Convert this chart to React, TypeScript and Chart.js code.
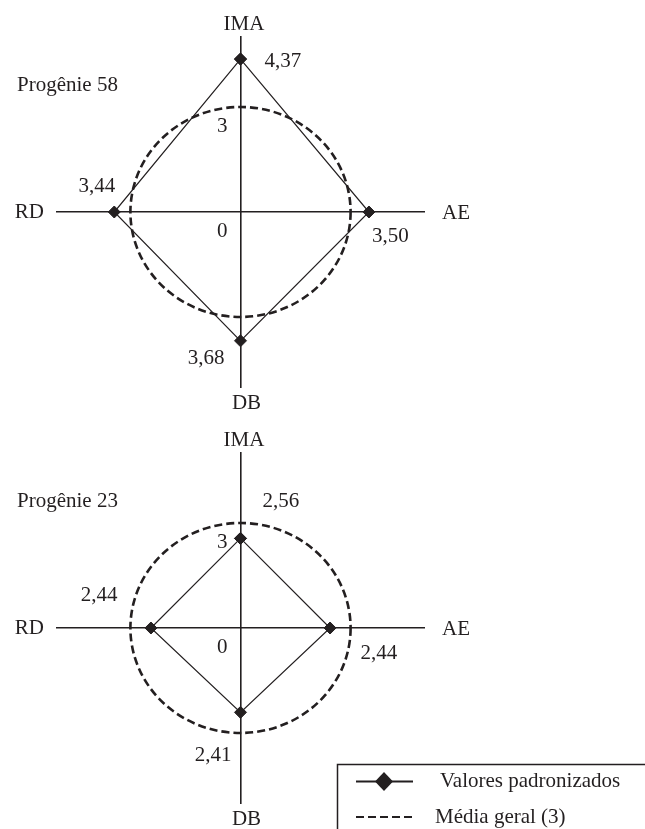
import React, { useEffect, useRef } from 'react';
import { Chart, registerables } from 'chart.js';

Chart.register(...registerables);

// ---- data ----
const AXES = ['IMA', 'AE', 'DB', 'RD'];
const PROGENY_58 = [4.37, 3.5, 3.68, 3.44];
const PROGENY_23 = [2.56, 2.44, 2.41, 2.44];
const TITLES = ['Progênie 58', 'Progênie 23'];
const MEAN = 3;
const R_TICKS = [0, 3];
const LEGEND_LABELS = ['Valores padronizados', 'Média geral (3)'];

// ---- styles / layout ----
const INK = '#231f20';
const FONT = '21px "Liberation Serif", "Times New Roman", serif';
const DIRS = [
  { x: 0, y: 1 },
  { x: 1, y: 0 },
  { x: 0, y: -1 },
  { x: -1, y: 0 },
];
// value label placement: outside (point beyond mean circle) / inside
const OUT_OFF = [
  { dx: 24, dy: 8, align: 'left' },
  { dx: 3, dy: 30, align: 'left' },
  { dx: -16, dy: 23, align: 'right' },
  { dx: 1, dy: -20, align: 'right' },
];
const IN_OFF = [
  { dx: 22, dy: -16, align: 'left' },
  { dx: 10, dy: 31, align: 'left' },
  { dx: -9, dy: 28, align: 'right' },
  { dx: -13, dy: -27, align: 'right' },
];

const fmt = (v: number) => v.toFixed(2).replace('.', ',');

function Diagram({ values, title, top, height }: { values: number[]; title: string; top: number; height: number }) {
  const ref = useRef<HTMLCanvasElement>(null);

  useEffect(() => {
    const canvas = ref.current!;
    const pts = values.map((v, i) => ({ x: DIRS[i].x * v, y: DIRS[i].y * v }));
    pts.push({ ...pts[0] });

    const overlay = {
      id: 'overlay',
      beforeDatasetsDraw(chart: any) {
        const { ctx, scales } = chart;
        const xs = scales.x;
        const ys = scales.y;
        const cx = xs.getPixelForValue(0);
        const cy = ys.getPixelForValue(0);
        const rx = xs.getPixelForValue(MEAN) - cx;
        const ry = cy - ys.getPixelForValue(MEAN);
        ctx.save();
        ctx.strokeStyle = INK;
        ctx.lineWidth = 2.6;
        ctx.setLineDash([8, 4]);
        ctx.beginPath();
        ctx.ellipse(cx, cy, rx, ry, 0, 0, Math.PI * 2);
        ctx.stroke();
        ctx.restore();
      },
      afterDraw(chart: any) {
        const { ctx, scales, chartArea } = chart;
        const xs = scales.x;
        const ys = scales.y;
        const cx = xs.getPixelForValue(0);
        const cy = ys.getPixelForValue(0);
        ctx.save();
        ctx.fillStyle = INK;
        ctx.font = FONT;
        ctx.textBaseline = 'alphabetic';

        // title
        ctx.textAlign = 'left';
        ctx.fillText(title, 17, chartArea.top + 54);

        // axis names
        ctx.textAlign = 'center';
        ctx.fillText(AXES[0], cx + 3.5, chartArea.top - 7);
        ctx.fillText(AXES[2], cx + 6, chartArea.bottom + 22);
        ctx.textAlign = 'left';
        ctx.fillText(AXES[1], chartArea.right + 18, cy + 7);
        ctx.textAlign = 'right';
        ctx.fillText(AXES[3], chartArea.left - 13, cy + 6);

        // radial tick labels
        ctx.textAlign = 'right';
        R_TICKS.forEach((t) => {
          ctx.fillText(String(t), cx - 13, ys.getPixelForValue(t) + 25);
        });

        // value labels
        values.forEach((v, i) => {
          const outside = v >= MEAN;
          const r = outside ? v : MEAN;
          const ax = xs.getPixelForValue(DIRS[i].x * r);
          const ay = ys.getPixelForValue(DIRS[i].y * r);
          const o = outside ? OUT_OFF[i] : IN_OFF[i];
          ctx.textAlign = o.align;
          ctx.fillText(fmt(v), ax + o.dx, ay + o.dy);
        });
        ctx.restore();
      },
    };

    const axisOpts = {
      type: 'linear',
      min: -5,
      max: 5,
      grid: { display: false },
      ticks: { display: false },
      border: { display: true, color: INK, width: 1.6 },
    };

    const chart = new Chart(canvas, {
      type: 'scatter',
      data: {
        datasets: [
          {
            label: LEGEND_LABELS[0],
            data: pts,
            showLine: true,
            borderColor: INK,
            borderWidth: 1.2,
            tension: 0,
            pointStyle: 'rectRot',
            pointRadius: 6,
            pointBackgroundColor: INK,
            pointBorderColor: INK,
            pointBorderWidth: 1,
          },
        ],
      },
      options: {
        animation: false,
        responsive: false,
        events: [],
        layout: { padding: { left: 57, right: 645 - 424, top: 37, bottom: height - 387 } },
        plugins: { legend: { display: false }, tooltip: { enabled: false }, title: { display: false } },
        scales: {
          x: { ...axisOpts, position: { y: 0 } },
          y: { ...axisOpts, position: { x: 0 } },
        },
      } as any,
      plugins: [overlay],
    } as any);
    return () => chart.destroy();
  }, [values, title, height]);

  return (
    <canvas
      ref={ref}
      width={645}
      height={height}
      style={{ position: 'absolute', left: 0, top, width: 645, height, display: 'block' }}
    />
  );
}

function Legend() {
  const fontFamily = '"Liberation Serif", "Times New Roman", serif';
  return (
    <svg
      width={645}
      height={829}
      style={{ position: 'absolute', left: 0, top: 0, pointerEvents: 'none' }}
    >
      <path d="M337.5 829 L337.5 764.5 L645 764.5" fill="none" stroke={INK} strokeWidth={1.5} />
      <line x1={356} y1={781.5} x2={413} y2={781.5} stroke={INK} strokeWidth={2} />
      <polygon points="384,772 393,781.5 384,791 375,781.5" fill={INK} />
      <line x1={356} y1={817} x2={413} y2={817} stroke={INK} strokeWidth={1.8} strokeDasharray="8 4" />
      <text x={440} y={787} fontFamily={fontFamily} fontSize={21} fill={INK}>
        {LEGEND_LABELS[0]}
      </text>
      <text x={435} y={823} fontFamily={fontFamily} fontSize={21} fill={INK}>
        {LEGEND_LABELS[1]}
      </text>
    </svg>
  );
}

export default function App() {
  return (
    <div
      style={{
        position: 'absolute',
        left: 0,
        top: 0,
        width: 645,
        height: 829,
        overflow: 'hidden',
        background: '#fff',
      }}
    >
      <Diagram values={PROGENY_58} title={TITLES[0]} top={0} height={414} />
      <Diagram values={PROGENY_23} title={TITLES[1]} top={416} height={413} />
      <Legend />
    </div>
  );
}
